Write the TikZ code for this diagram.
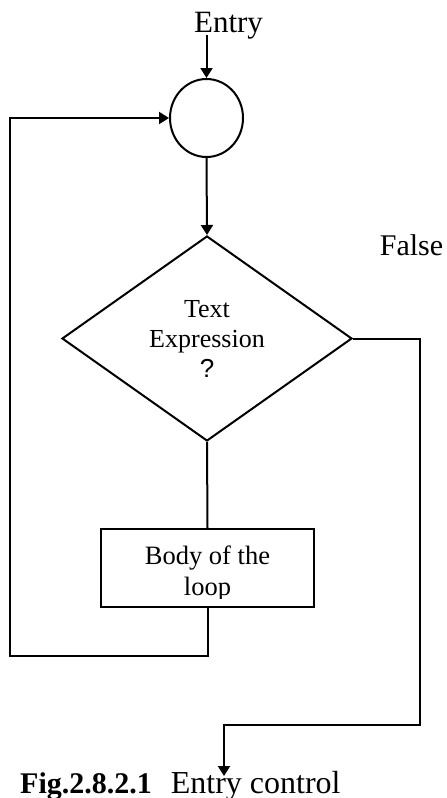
\documentclass[tikz,border=0pt]{standalone}
\usepackage{fontspec}
\setmainfont{Liberation Serif}
\newfontfamily\qmarkfont{Liberation Sans}
\usetikzlibrary{arrows.meta,positioning,shapes.geometric}

\tikzset{
  wire/.style={line width=2pt},
  flow/.style={wire, -{Triangle[length=10pt,width=12pt]}},
  label/.style={font=\fontsize{30}{34}\selectfont},
  inner/.style={font=\fontsize{26}{30}\selectfont, align=center}
}

\begin{document}
\begin{tikzpicture}[x=1pt,y=-1pt]
  \useasboundingbox (0,0) rectangle (447,798);

  \node[label, font=\fontsize{31}{34}\selectfont, anchor=base] (entry) at (228.5,32) {Entry};
  \coordinate (entryin) at (206.5,35);
  \node[draw, wire, ellipse, minimum width=73pt, minimum height=78pt, inner sep=0pt] (junc) at (206.5,118) {};
  \node[draw, wire, diamond, inner, shape aspect=1.41, minimum width=290pt, minimum height=205pt, inner sep=0pt] (cond) at (207,338.5)
    {Text\\Expression\\{\qmarkfont ?}};
  \node[draw, wire, minimum width=213pt, minimum height=78pt] (body) at (207.5,568) {};
  % the box cuts off the last line
  \begin{scope}
    \clip (body.north west) rectangle (314,598.5);
    \node[inner, font=\fontsize{26.5}{31}\selectfont] (bodytext) at (207.5,573) {Body of the\\loop};
  \end{scope}
  \node[label, anchor=base] (false) at (411.5,255) {False};

  \coordinate (falseturn) at (420,725);
  \coordinate (exit) at (224,776);
  \coordinate (loopback) at (10,656);

  \draw[flow] (entryin) -- (junc.north);
  \draw[flow] (junc.south) -- (cond.north);
  \draw[wire] (cond.south) -- (body.north);
  \draw[flow] (body.south) |- (loopback) |- (junc.west);
  \draw[flow] (cond.east) -| (falseturn) -| (exit);

  % Caption
  \node[font=\fontsize{32}{36}\selectfont, anchor=base west, inner sep=0pt] (caption) at (20,793)
    {{\fontsize{30}{36}\selectfont\bfseries Fig.2.8.2.1}\hspace{19pt}Entry control};
\end{tikzpicture}
\end{document}
